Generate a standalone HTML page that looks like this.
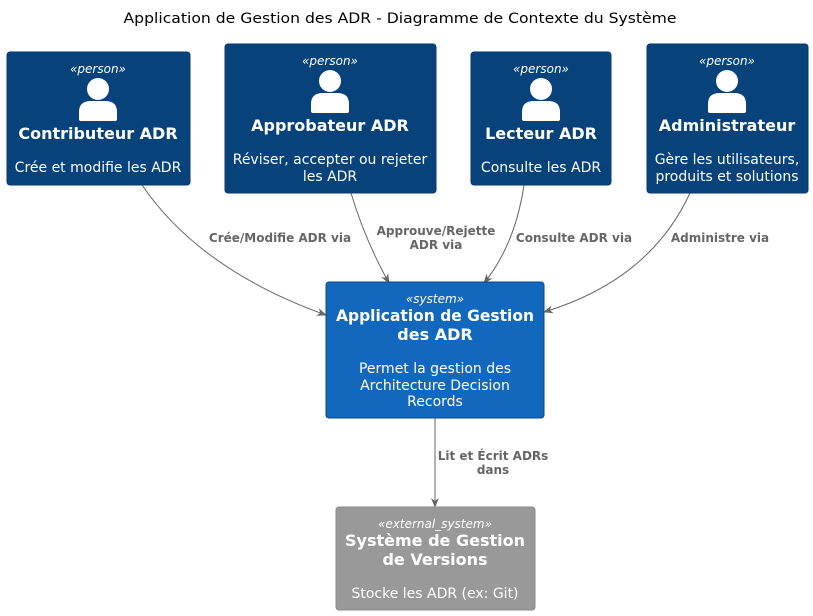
<!DOCTYPE html>
<html><head><meta charset="utf-8"><style>
html,body{margin:0;padding:0;background:#fff;}
svg{display:block;font-family:"DejaVu Sans","Liberation Sans",sans-serif;}
</style></head><body>
<svg width="813" height="616" viewBox="0 0 813 616" xmlns="http://www.w3.org/2000/svg">
<defs>
<g id="p"><circle cx="0" cy="-2" r="11" fill="#fff"/><path d="M-19,28 L-19,21 Q-19,10 -7,10 L7,10 Q19,10 19,21 L19,28 Q19,30 17,30 L-17,30 Q-19,30 -19,28 Z" fill="#fff"/></g>
<marker id="a" markerWidth="10" markerHeight="10" refX="9" refY="5" orient="auto" markerUnits="userSpaceOnUse"><path d="M0,1 L10,5 L0,9 L3,5 Z" fill="#666"/></marker>
</defs>
<text x="400" y="23" text-anchor="middle" font-size="14" textLength="553" lengthAdjust="spacingAndGlyphs">Application de Gestion des ADR - Diagramme de Contexte du Système</text>

<g fill="none" stroke="#666" stroke-width="1" marker-end="url(#a)">
<path d="M142,185 Q200,270 326,315"/>
<path d="M351,193 Q365,240 389,283"/>
<path d="M524,185 Q515,245 484,283"/>
<path d="M690,193 Q650,280 544,312"/>
<path d="M435,418 L435,507"/>
</g>
<g font-size="12" font-weight="bold" fill="#666" text-anchor="middle">
<text x="280" y="242">Crée/Modifie ADR via</text>
<text x="436" y="235">Approuve/Rejette</text><text x="436" y="249">ADR via</text>
<text x="574" y="242">Consulte ADR via</text>
<text x="720" y="242">Administre via</text>
<text x="493" y="460">Lit et Écrit ADRs</text><text x="493" y="474">dans</text>
</g>

<g fill="#08427b" stroke="#073b6f">
<rect x="7" y="52" width="183" height="133" rx="3"/>
<rect x="225" y="44" width="211" height="149" rx="3"/>
<rect x="471" y="52" width="140" height="133" rx="3"/>
<rect x="647" y="44" width="161" height="149" rx="3"/>
</g>
<rect x="326" y="282" width="218" height="136" rx="3" fill="#1168bd" stroke="#0b4884"/>
<rect x="336" y="507" width="199" height="103" rx="3" fill="#999999" stroke="#8a8a8a"/>

<use href="#p" x="98" y="91"/>
<use href="#p" x="330" y="83"/>
<use href="#p" x="541" y="91"/>
<use href="#p" x="727" y="83"/>

<g fill="#fff" text-anchor="middle">
<g font-size="12" font-style="italic">
<text x="98" y="73">«person»</text>
<text x="330" y="65">«person»</text>
<text x="541" y="73">«person»</text>
<text x="727" y="65">«person»</text>
<text x="435" y="303">«system»</text>
<text x="435" y="528">«external_system»</text>
</g>
<g font-size="16" font-weight="bold">
<text x="98" y="139">Contributeur ADR</text>
<text x="330" y="131">Approbateur ADR</text>
<text x="541" y="139">Lecteur ADR</text>
<text x="727" y="131">Administrateur</text>
<text x="435" y="321" textLength="198" lengthAdjust="spacingAndGlyphs">Application de Gestion</text>
<text x="435" y="340">des ADR</text>
<text x="435" y="546">Système de Gestion</text>
<text x="435" y="565">de Versions</text>
</g>
<g font-size="14">
<text x="98" y="172">Crée et modifie les ADR</text>
<text x="330" y="164">Réviser, accepter ou rejeter</text>
<text x="330" y="181">les ADR</text>
<text x="541" y="172">Consulte les ADR</text>
<text x="727" y="164">Gère les utilisateurs,</text>
<text x="727" y="181">produits et solutions</text>
<text x="435" y="373">Permet la gestion des</text>
<text x="435" y="390">Architecture Decision</text>
<text x="435" y="406">Records</text>
<text x="435" y="598">Stocke les ADR (ex: Git)</text>
</g>
</g>
</svg>
</body></html>
